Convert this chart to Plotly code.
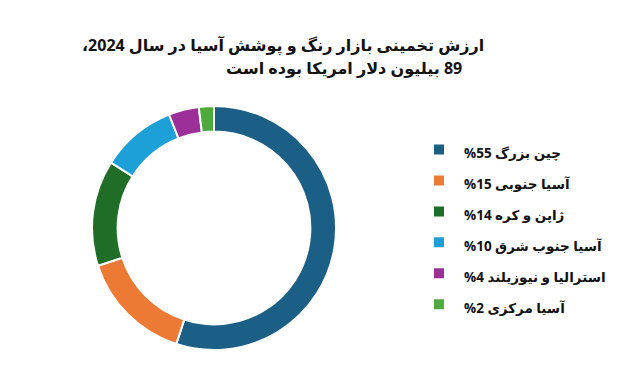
import plotly.graph_objects as go

regions = ["چین بزرگ", "آسیا جنوبی", "ژاپن و کره", "آسیا جنوب شرق", "استرالیا و نیوزیلند", "آسیا مرکزی"]
shares = [55, 15, 14, 10, 4, 2]
colors = ["#1b5e86", "#ec7a34", "#1f6d26", "#1d9fd8", "#9c2f98", "#4cab3a"]
title_lines = ["ارزش تخمینی بازار رنگ و پوشش آسیا در سال 2024،", "89 بیلیون دلار امریکا بوده است"]

labels = [f"<span style='font-size:13.5px'><b>%{v} {n}</b></span>" for n, v in zip(regions, shares)]

W, H = 624, 378
OFF = 8  # page body margin
cx, cy, r = 214 - OFF, 228 - OFF, 122

fig = go.Figure(go.Pie(
    labels=labels,
    values=shares,
    marker=dict(colors=colors, line=dict(color="white", width=2)),
    hole=0.79,
    sort=False,
    direction="clockwise",
    rotation=0,
    textinfo="none",
    domain=dict(x=[(cx - r) / W, (cx + r) / W], y=[1 - (cy + r) / H, 1 - (cy - r) / H]),
))

line_text = ["\u200f" + title_lines[0] + "\u200f", "\u200f" + title_lines[1]]
line_y = [45 - OFF, 68 - OFF]
line_shift = [-61, 0]  # compensates bidi bbox mis-measurement
for t, yy, sh in zip(line_text, line_y, line_shift):
    fig.add_annotation(text="<b>" + t + "</b>", x=(344 - OFF) / W, y=1 - yy / H,
                       xref="paper", yref="paper", xanchor="center", yanchor="middle",
                       xshift=sh, showarrow=False, font=dict(size=16, color="#111111"))

fig.update_layout(
    width=W, height=H,
    margin=dict(l=0, r=0, t=0, b=0, autoexpand=False),
    paper_bgcolor="white",
    font=dict(family="Open Sans, DejaVu Sans, sans-serif", color="#111111"),
    showlegend=True,
    legend=dict(x=406 / W, y=1 - 121 / H, xanchor="left", yanchor="top",
                font=dict(size=21.5, color="#111111"), itemwidth=40,
                bgcolor="rgba(0,0,0,0)"),
)

fig.write_html("out.html")
